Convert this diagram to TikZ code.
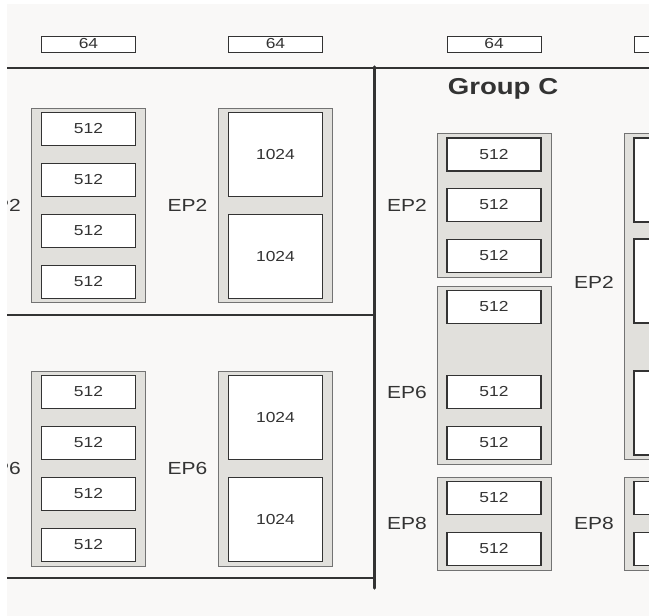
\documentclass[tikz,border=0pt]{standalone}
\usepackage{fontspec}
\setmainfont{Liberation Sans}[FakeStretch=1.2]
\usetikzlibrary{positioning}
\definecolor{paper}{HTML}{F9F8F7}
\definecolor{bayfill}{HTML}{E1E0DC}
\definecolor{ink}{HTML}{333333}
\tikzset{
  bay/.style={draw=black!55, fill=bayfill, line width=1pt, inner sep=0pt, minimum width=114},
  slot/.style={draw=ink, fill=white, line width=1.3pt, inner sep=0pt, text=ink,
    minimum width=94, minimum height=33, font=\fontsize{14.5}{16}\selectfont},
  bigslot/.style={slot, minimum height=84},
  tag/.style={slot, line width=1pt, minimum height=16},
  eplabel/.style={text=ink, inner sep=0pt, font=\fontsize{17.5}{20}\selectfont},
  grouptitle/.style={text=ink, inner sep=0pt, font=\fontsize{23}{26}\selectfont\bfseries},
  divider/.style={draw=ink, line width=2pt},
}

\begin{document}
\begin{tikzpicture}[x=1pt,y=-1pt]
    \useasboundingbox (0,0) rectangle (649,616);
    \fill[paper] (7,4) rectangle (649,616);
    \clip (7,4) rectangle (649,616);

    % frame lines
    \draw[divider] (7,67.5) -- (649,67.5);
    \draw[divider] (7,315) -- (374,315);
    \draw[divider] (7,578) -- (374,578);
    \draw[divider, line width=3.5pt, line cap=round] (374.5,67) -- (374.5,588);

    % 64 row
    \node[tag] (t1) at (88.5,44) {64};
    \node[tag] (t2) at (275.5,44) {64};
    \node[tag] (t3) at (494,44) {64};
    \node[tag] (t4) at (681,44) {};

    % left, EP2
    \node[bay, minimum height=194] (bayA) at (88.5,205.5) {};
    \node[slot] (a1) at (88.5,129) {512};
    \node[slot] (a2) at (88.5,180) {512};
    \node[slot] (a3) at (88.5,231) {512};
    \node[slot] (a4) at (88.5,282) {512};
    \node[eplabel, left=10pt of bayA] (epA) {EP2};

    % left, EP6
    \node[bay, minimum height=195] (bayB) at (88.5,468.5) {};
    \node[slot] (b1) at (88.5,392) {512};
    \node[slot] (b2) at (88.5,443) {512};
    \node[slot] (b3) at (88.5,494) {512};
    \node[slot] (b4) at (88.5,545) {512};
    \node[eplabel, left=10pt of bayB] (epB) {EP6};

    % 1024 column
    \node[bay, minimum height=194] (bayC) at (275,205.5) {};
    \node[bigslot] (c1) at (275.5,154.5) {1024};
    \node[bigslot] (c2) at (275.5,256.5) {1024};
    \node[eplabel, left=10pt of bayC] (epC) {EP2};

    \node[bay, minimum height=195] (bayD) at (275,468.5) {};
    \node[bigslot] (d1) at (275.5,417.5) {1024};
    \node[bigslot] (d2) at (275.5,519.5) {1024};
    \node[eplabel, left=10pt of bayD] (epD) {EP6};

    % Group C
    \node[grouptitle] (grpC) at (503,89) {Group C};

    \node[bay, minimum height=144] (bayE) at (494.5,205) {};
    \node[slot] (e1) at (494,154.5) {512};
    \node[slot] (e2) at (494,205) {512};
    \node[slot] (e3) at (494,256) {512};
    \node[eplabel, left=10pt of bayE] (epE) {EP2};

    \node[bay, minimum height=178] (bayF) at (494.5,375) {};
    \node[slot] (f1) at (494,307) {512};
    \node[slot] (f2) at (494,392) {512};
    \node[slot] (f3) at (494,443) {512};
    \node[eplabel, anchor=east] (epF) at (427,392) {EP6};

    \node[bay, minimum height=93] (bayG) at (494.5,523.5) {};
    \node[slot] (g1) at (494,498) {512};
    \node[slot] (g2) at (494,549) {512};
    \node[eplabel, left=10pt of bayG] (epG) {EP8};

    \node[bay, minimum height=326] (bayH) at (681.5,296) {};
    \node[bigslot] (h1) at (681,180) {};
    \node[bigslot] (h2) at (681,281) {};
    \node[bigslot] (h3) at (681,413) {};
    \node[eplabel, anchor=east] (epH) at (614,282) {EP2};

    \node[bay, minimum height=93] (bayK) at (681.5,523.5) {};
    \node[slot] (k1) at (681,498) {};
    \node[slot] (k2) at (681,549) {};
    \node[eplabel, left=10pt of bayK] (epK) {EP8};
\end{tikzpicture}
\end{document}
